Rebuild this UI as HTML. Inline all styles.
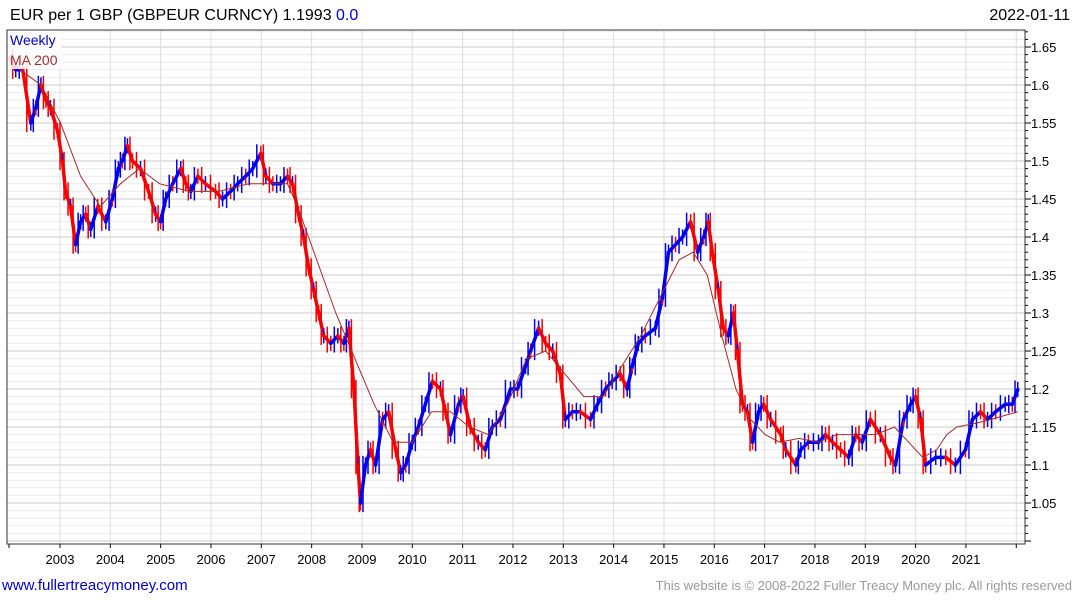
<!DOCTYPE html>
<html><head><meta charset="utf-8"><style>
body{margin:0;background:#fff;width:1075px;height:600px;overflow:hidden;font-family:"Liberation Sans","DejaVu Sans",sans-serif}
svg{position:absolute;left:0;top:0}
</style></head><body>
<svg id="chart" width="1075" height="600"></svg>
<script>
const dates=[2002.00,2002.12,2002.26,2002.42,2002.52,2002.62,2002.72,2002.81,2002.95,2003.05,2003.11,2003.21,2003.31,2003.41,2003.51,2003.61,2003.75,2003.91,2004.04,2004.16,2004.24,2004.34,2004.44,2004.60,2004.76,2004.90,2005.00,2005.10,2005.24,2005.40,2005.50,2005.60,2005.74,2005.89,2006.09,2006.23,2006.39,2006.53,2006.69,2006.83,2006.99,2007.09,2007.23,2007.38,2007.52,2007.62,2007.74,2007.84,2007.94,2008.04,2008.14,2008.24,2008.38,2008.52,2008.64,2008.74,2008.84,2008.92,2008.97,2009.07,2009.17,2009.27,2009.41,2009.53,2009.67,2009.77,2009.87,2010.00,2010.12,2010.26,2010.40,2010.56,2010.66,2010.76,2010.92,2011.01,2011.15,2011.31,2011.45,2011.59,2011.75,2011.95,2012.09,2012.25,2012.35,2012.51,2012.65,2012.79,2012.94,2013.04,2013.18,2013.34,2013.54,2013.68,2013.84,2013.97,2014.13,2014.27,2014.37,2014.49,2014.63,2014.83,2014.97,2015.09,2015.23,2015.37,2015.53,2015.67,2015.79,2015.88,2015.96,2016.08,2016.18,2016.28,2016.38,2016.46,2016.56,2016.66,2016.76,2016.88,2016.98,2017.12,2017.32,2017.42,2017.62,2017.72,2017.87,2018.07,2018.21,2018.35,2018.51,2018.67,2018.81,2018.94,2019.10,2019.30,2019.50,2019.60,2019.76,2019.90,2020.00,2020.10,2020.20,2020.40,2020.60,2020.79,2020.99,2021.13,2021.29,2021.43,2021.59,2021.78,2021.92,2022.03];
const closes=[1.635,1.62,1.62,1.55,1.57,1.60,1.58,1.57,1.54,1.50,1.46,1.44,1.39,1.42,1.43,1.41,1.44,1.42,1.45,1.49,1.50,1.52,1.50,1.49,1.46,1.43,1.42,1.45,1.47,1.49,1.47,1.46,1.48,1.47,1.46,1.45,1.46,1.47,1.48,1.49,1.51,1.48,1.47,1.47,1.48,1.47,1.43,1.40,1.36,1.33,1.30,1.27,1.26,1.27,1.26,1.28,1.20,1.10,1.05,1.10,1.12,1.10,1.16,1.17,1.12,1.09,1.10,1.13,1.15,1.18,1.21,1.20,1.17,1.14,1.18,1.19,1.15,1.13,1.12,1.15,1.16,1.20,1.20,1.23,1.25,1.28,1.26,1.25,1.22,1.16,1.17,1.17,1.16,1.18,1.20,1.21,1.22,1.20,1.23,1.26,1.27,1.28,1.32,1.38,1.39,1.40,1.42,1.38,1.40,1.42,1.38,1.33,1.28,1.27,1.30,1.25,1.18,1.17,1.13,1.17,1.18,1.16,1.14,1.12,1.10,1.12,1.13,1.13,1.14,1.13,1.12,1.11,1.14,1.13,1.16,1.14,1.11,1.10,1.16,1.18,1.19,1.16,1.10,1.11,1.11,1.10,1.12,1.16,1.17,1.16,1.17,1.18,1.18,1.1993];
const maDates=[2002.00,2002.62,2003.01,2003.41,2003.80,2004.20,2004.58,2004.98,2005.58,2006.16,2006.75,2007.14,2007.52,2007.72,2008.10,2008.48,2008.86,2009.24,2009.62,2010.00,2010.38,2010.76,2011.13,2011.51,2011.89,2012.27,2012.65,2013.03,2013.41,2013.79,2014.16,2014.54,2014.92,2015.30,2015.58,2015.86,2016.15,2016.43,2016.72,2017.01,2017.30,2017.68,2018.06,2018.44,2018.82,2019.20,2019.58,2019.86,2020.14,2020.42,2020.62,2020.82,2021.20,2021.50,2022.03];
const maValues=[1.63,1.60,1.55,1.48,1.44,1.47,1.49,1.47,1.46,1.46,1.47,1.47,1.47,1.44,1.37,1.30,1.24,1.18,1.13,1.13,1.17,1.17,1.15,1.14,1.18,1.24,1.25,1.22,1.19,1.19,1.23,1.27,1.32,1.37,1.38,1.35,1.27,1.20,1.16,1.14,1.13,1.135,1.13,1.14,1.14,1.14,1.15,1.13,1.11,1.12,1.14,1.15,1.155,1.16,1.17];
const yTicks=[1.05,1.1,1.15,1.2,1.25,1.3,1.35,1.4,1.45,1.5,1.55,1.6,1.65];
const yTickLabels=["1.05","1.1","1.15","1.2","1.25","1.3","1.35","1.4","1.45","1.5","1.55","1.6","1.65"];
const xYears=[2003,2004,2005,2006,2007,2008,2009,2010,2011,2012,2013,2014,2015,2016,2017,2018,2019,2020,2021,2022];

const L=7,R=1025,T=30,B=544;
const X=d=>60+(d-2003)*50.33;
const Y=v=>47+(1.65-v)*760;
const svg=document.getElementById('chart');
const NS='http://www.w3.org/2000/svg';
function mk(tag,attrs,parent){const e=document.createElementNS(NS,tag);for(const k in attrs)e.setAttribute(k,attrs[k]);(parent||svg).appendChild(e);return e;}

const grid=mk('g',{});


for(let i=100;i<=167;i++){const v=i/100;const y=Y(v);if(y<T||y>B)continue;
 const major=(i%5===0);
 mk('line',{x1:L,x2:R,y1:y,y2:y,stroke:major?'#c8c8c8':'#ececec','stroke-width':1},grid);
 mk('line',{x1:R,x2:R+(major?6:3),y1:y,y2:y,stroke:'#000','stroke-width':1},grid);}
xYears.forEach(yr=>{const x=X(yr);mk('line',{x1:x,x2:x,y1:T,y2:B,stroke:'#dcdcdc','stroke-width':1},grid);
 mk('line',{x1:x,x2:x,y1:B,y2:B+4,stroke:'#000'},grid);});
mk('line',{x1:9,x2:9,y1:B,y2:B+4,stroke:'#000'},grid);
const fr=mk('rect',{x:L,y:T,width:R-L,height:B-T,fill:'none',stroke:'#333','stroke-width':1});



yTicks.forEach((v,i)=>{const t=mk('text',{x:1031,y:Y(v)+5,'font-size':13,fill:'#000'});t.textContent=yTickLabels[i];
 
 });
xYears.forEach(yr=>{if(yr>2021)return;const t=mk('text',{x:X(yr),y:564,'font-size':13,'text-anchor':'middle',fill:'#000'});t.textContent=yr;
 
 });

const ps=mk('g',{});


for(let i=1;i<closes.length;i++){
 const up=closes[i]>=closes[i-1];const c=up?'#0000ee':'#ff0000';
 mk('line',{x1:X(dates[i-1]),y1:Y(closes[i-1]),x2:X(dates[i]),y2:Y(closes[i]),stroke:c,'stroke-width':3.5,'stroke-linecap':'round'},ps);
 const xm=(X(dates[i-1])+X(dates[i]))/2;
 const hi=Math.max(closes[i-1],closes[i])+0.012,lo=Math.min(closes[i-1],closes[i])-0.012;
 mk('line',{x1:xm,x2:xm,y1:Y(hi),y2:Y(lo),stroke:up?'#0000ee':'#ee0000','stroke-width':1.5},ps);
 mk('line',{x1:X(dates[i]),x2:X(dates[i]),y1:Y(closes[i]+0.01),y2:Y(closes[i]-0.01),stroke:i%2?'#0000ee':'#ff0000','stroke-width':1.5},ps);
}
let d='';maDates.forEach((m,i)=>{d+=(i?'L':'M')+X(m).toFixed(1)+' '+Y(maValues[i]).toFixed(1);});
const ma=mk('path',{d:d,fill:'none',stroke:'#a52a2a','stroke-width':1});



mk('rect',{x:8,y:31,width:54,height:38,fill:'#fff','fill-opacity':0.85});
const l1=mk('text',{x:10,y:45,'font-size':14,fill:'#0000cc'});l1.textContent='Weekly';


const l2=mk('text',{x:10,y:65,'font-size':14,fill:'#a52a2a'});l2.textContent='MA 200';



const h=mk('text',{x:10,y:20,'font-size':16,fill:'#000'});h.innerHTML='EUR per 1 GBP (GBPEUR CURNCY) 1.1993 <tspan fill="#0000cc">0.0</tspan>';


const dt=mk('text',{x:1070,y:20,'font-size':16,'text-anchor':'end',fill:'#000'});dt.textContent='2022-01-11';


const f1=mk('text',{x:2,y:590,'font-size':15,fill:'#0000cc'});f1.textContent='www.fullertreacymoney.com';


const f2=mk('text',{x:1072,y:590,'font-size':13,'text-anchor':'end',fill:'#999'});f2.textContent='This website is © 2008-2022 Fuller Treacy Money plc. All rights reserved';


</script>
</body></html>
